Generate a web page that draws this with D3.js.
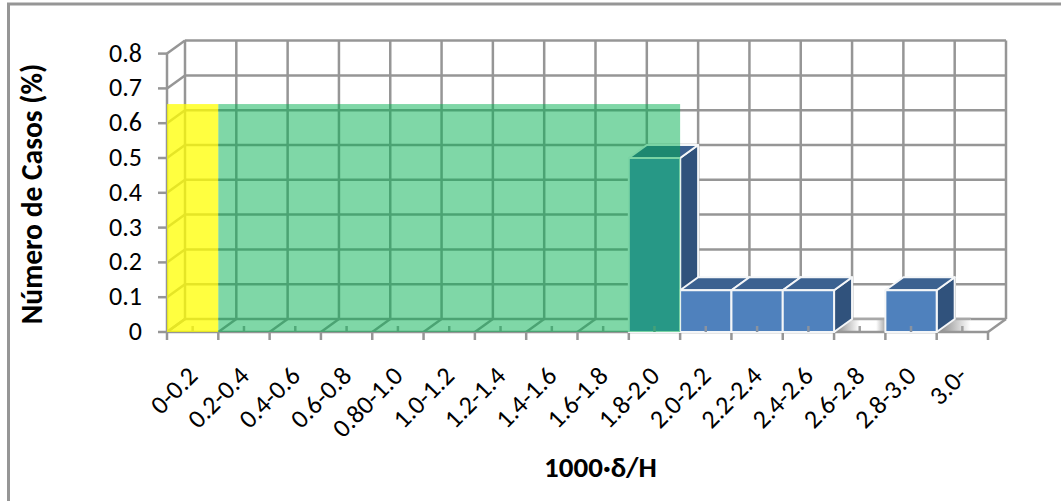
<!DOCTYPE html>
<html><head><meta charset="utf-8">
<script src="https://cdn.jsdelivr.net/npm/d3@7"></script>
<style>html,body{margin:0;padding:0;background:#fff}svg{display:block}text{font-family:Carlito,Calibri,"Open Sans","Liberation Sans",sans-serif}</style>
</head><body><svg id="c" width="1062" height="501"></svg>
<script>
const categories=["0-0.2","0.2-0.4","0.4-0.6","0.6-0.8","0.80-1.0","1.0-1.2","1.2-1.4","1.4-1.6","1.6-1.8","1.8-2.0","2.0-2.2","2.2-2.4","2.4-2.6","2.6-2.8","2.8-3.0","3.0-"];
const values=[0,0,0,0,0,0,0,0,0,0.5,0.12,0.12,0.12,0,0.12,0];
const yTicks=[0,0.1,0.2,0.3,0.4,0.5,0.6,0.7,0.8];
const yellowBand=[0,1,0.655];
const greenBand=[1,10,0.655];
const yTitle="Número de Casos (%)";
const xTitle="1000·δ/H";

const svg=d3.select("#c");
const x=d3.scaleLinear().domain([0,categories.length]).range([167,988]);
const y=d3.scaleLinear().domain([0,0.8]).range([332,53.6]);
const dx=18,dy=-13,G="#969696",W=2.5;

svg.append("path").attr("d","M8.5,501V4H1061").attr("fill","none").attr("stroke","#969696").attr("stroke-width",3);

const defs=svg.append("defs");
const mkGrad=(id,stops)=>{const g=defs.append("linearGradient").attr("id",id).attr("x1",0).attr("x2",1);
  stops.forEach(s=>g.append("stop").attr("offset",s[0]).attr("stop-color",s[1]));};
mkGrad("sh",[[0,"#808080"],[0.5,"#fff"],[0.82,"#fff"],[1,"#a8a8a8"]]);
mkGrad("shEnd",[[0,"#808080"],[1,"#fff"]]);

const line=(x1,y1,x2,y2,w=W,c=G)=>svg.append("line").attr("x1",x1).attr("y1",y1).attr("x2",x2).attr("y2",y2).attr("stroke",c).attr("stroke-width",w);

// walls
yTicks.forEach(t=>{
  line(x(0)+dx,y(t)+dy,x(16)+dx,y(t)+dy);
  line(x(0),y(t),x(0)+dx,y(t)+dy);
  line(x(0)-9,y(t),x(0),y(t));
});
d3.range(17).forEach(i=>{
  line(x(i)+dx,y(0)+dy,x(i)+dx,y(0.8)+dy);
  line(x(i),y(0),x(i)+dx,y(0)+dy);
  line(x(i),y(0),x(i),y(0)+8);
});
line(x(0),y(0),x(0),y(0.8));

// floor shadows beside the bars
values.forEach((v,i)=>{
  if(v===0&&i>0&&values[i-1]>0){
    const hasNext=i+1<values.length&&values[i+1]>0;
    const end=hasNext?x(i+1):x(i)+34;
    svg.append("path").attr("d",`M${x(i)},${y(0)}L${x(i)+dx},${y(0)+dy}H${end}V${y(0)}Z`).attr("fill",hasNext?"url(#sh)":"url(#shEnd)");
    line(x(i)+dx,y(0)+dy,end,y(0)+dy,W,"#a8a8a8");
  }
});
d3.range(16).forEach(i=>line(x(i+.5),y(0),x(i+.5),y(0)-6,W,"#a0a0a0"));
line(x(0),y(0),x(16),y(0),W);

// bars
values.forEach((v,i)=>{
  if(v<=0) return;
  const x0=x(i),x1=x(i+1),y0=y(0),yt=y(v);
  const g=svg.append("g").attr("stroke","#f4f6f8").attr("stroke-width",2).attr("stroke-linejoin","round");
  g.append("path").attr("d",`M${x1},${y0}L${x1+dx},${y0+dy}V${yt+dy}L${x1},${yt}Z`).attr("fill","#30527c");
  g.append("path").attr("d",`M${x0},${yt}L${x0+dx},${yt+dy}H${x1+dx}L${x1},${yt}Z`).attr("fill","#3b6190");
  g.append("rect").attr("x",x0).attr("y",yt).attr("width",x1-x0).attr("height",y0-yt).attr("fill","#4f81bd");
  line(x(i+.5),y0,x(i+.5),y0-6,W,"#8a93a0");
});

// highlighted bands
const band=(b,c,o)=>svg.append("rect").attr("x",x(b[0])).attr("width",x(b[1])-x(b[0])).attr("y",y(b[2])).attr("height",y(0)-y(b[2])).attr("fill",c).attr("fill-opacity",o);
band(yellowBand,"#ffff00",0.75);
band(greenBand,"#00b050",0.5);

// labels
svg.selectAll(".yl").data(yTicks).join("text").attr("x",x(0)-25).attr("y",t=>y(t)+8).attr("text-anchor","end").attr("font-size",26).attr("fill","#000").text(t=>t);
svg.selectAll(".xl").data(categories).join("text").attr("text-anchor","end").attr("font-size",26).attr("fill","#000")
  .attr("transform",(d,i)=>`translate(${x(i+.5)-2},${y(0)+37}) rotate(-45)`).attr("dy",12).text(d=>d);
svg.append("text").attr("transform",`translate(42,194) rotate(-90)`).attr("text-anchor","middle").attr("font-size",29.5).attr("font-weight","bold").text(yTitle);
svg.append("text").attr("x",600.5).attr("y",477).attr("text-anchor","middle").attr("font-size",29).attr("font-weight","bold").text(xTitle);
</script></body></html>
